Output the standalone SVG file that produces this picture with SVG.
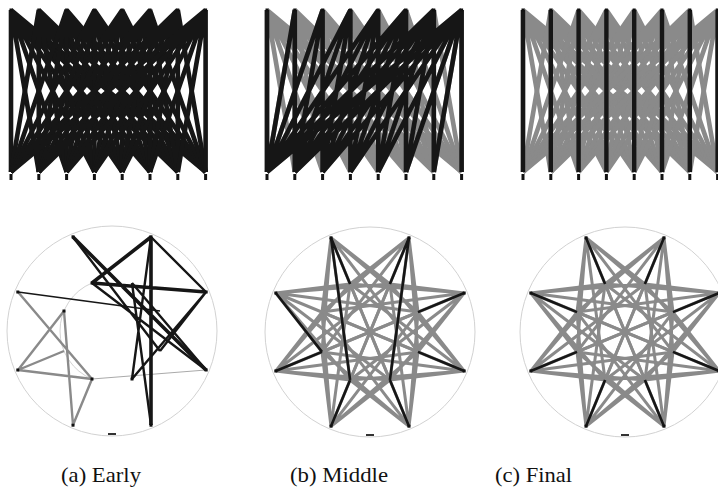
<svg xmlns="http://www.w3.org/2000/svg" xmlns:xlink="http://www.w3.org/1999/xlink" width="718" height="488" viewBox="0 0 718 488">
<style>
.blk{stroke:#161616;fill:none}
.gry{stroke:#8a8a8a;fill:none}
.ring{stroke:#d2d2d2;stroke-width:1;fill:none}
.nd{fill:#111}
.lbl{font-family:"Liberation Serif","Times New Roman",serif;font-size:21px;fill:#111}
</style>
<defs>
<g id="kb">
<path d="M0 0L0 162M0 0L27.8 162M0 0L55.6 162M0 0L83.4 162M0 0L111.2 162M0 0L139 162M0 0L166.8 162M0 0L194.6 162"/>
<path d="M27.8 0L0 162M27.8 0L27.8 162M27.8 0L55.6 162M27.8 0L83.4 162M27.8 0L111.2 162M27.8 0L139 162M27.8 0L166.8 162M27.8 0L194.6 162"/>
<path d="M55.6 0L0 162M55.6 0L27.8 162M55.6 0L55.6 162M55.6 0L83.4 162M55.6 0L111.2 162M55.6 0L139 162M55.6 0L166.8 162M55.6 0L194.6 162"/>
<path d="M83.4 0L0 162M83.4 0L27.8 162M83.4 0L55.6 162M83.4 0L83.4 162M83.4 0L111.2 162M83.4 0L139 162M83.4 0L166.8 162M83.4 0L194.6 162"/>
<path d="M111.2 0L0 162M111.2 0L27.8 162M111.2 0L55.6 162M111.2 0L83.4 162M111.2 0L111.2 162M111.2 0L139 162M111.2 0L166.8 162M111.2 0L194.6 162"/>
<path d="M139 0L0 162M139 0L27.8 162M139 0L55.6 162M139 0L83.4 162M139 0L111.2 162M139 0L139 162M139 0L166.8 162M139 0L194.6 162"/>
<path d="M166.8 0L0 162M166.8 0L27.8 162M166.8 0L55.6 162M166.8 0L83.4 162M166.8 0L111.2 162M166.8 0L139 162M166.8 0L166.8 162M166.8 0L194.6 162"/>
<path d="M194.6 0L0 162M194.6 0L27.8 162M194.6 0L55.6 162M194.6 0L83.4 162M194.6 0L111.2 162M194.6 0L139 162M194.6 0L166.8 162M194.6 0L194.6 162"/>
</g>
<g id="kbnodes">
<rect x="-1.5" y="-1.5" width="3" height="3"/><rect x="26.3" y="-1.5" width="3" height="3"/><rect x="54.1" y="-1.5" width="3" height="3"/><rect x="81.9" y="-1.5" width="3" height="3"/><rect x="109.7" y="-1.5" width="3" height="3"/><rect x="137.5" y="-1.5" width="3" height="3"/><rect x="165.3" y="-1.5" width="3" height="3"/><rect x="193.1" y="-1.5" width="3" height="3"/>
<rect x="-1.5" y="164" width="3" height="6"/><rect x="26.3" y="164" width="3" height="6"/><rect x="54.1" y="164" width="3" height="6"/><rect x="81.9" y="164" width="3" height="6"/><rect x="109.7" y="164" width="3" height="6"/><rect x="137.5" y="164" width="3" height="6"/><rect x="165.3" y="164" width="3" height="6"/><rect x="193.1" y="164" width="3" height="6"/>
</g>
<g id="kc">
<path d="M94.2 39L48 19.9M94.2 39L19.9 48M94.2 39L-19.9 48M94.2 39L-48 19.9M94.2 39L-48 -19.9M94.2 39L-19.9 -48M94.2 39L19.9 -48M94.2 39L48 -19.9"/>
<path d="M39 94.2L48 19.9M39 94.2L19.9 48M39 94.2L-19.9 48M39 94.2L-48 19.9M39 94.2L-48 -19.9M39 94.2L-19.9 -48M39 94.2L19.9 -48M39 94.2L48 -19.9"/>
<path d="M-39 94.2L48 19.9M-39 94.2L19.9 48M-39 94.2L-19.9 48M-39 94.2L-48 19.9M-39 94.2L-48 -19.9M-39 94.2L-19.9 -48M-39 94.2L19.9 -48M-39 94.2L48 -19.9"/>
<path d="M-94.2 39L48 19.9M-94.2 39L19.9 48M-94.2 39L-19.9 48M-94.2 39L-48 19.9M-94.2 39L-48 -19.9M-94.2 39L-19.9 -48M-94.2 39L19.9 -48M-94.2 39L48 -19.9"/>
<path d="M-94.2 -39L48 19.9M-94.2 -39L19.9 48M-94.2 -39L-19.9 48M-94.2 -39L-48 19.9M-94.2 -39L-48 -19.9M-94.2 -39L-19.9 -48M-94.2 -39L19.9 -48M-94.2 -39L48 -19.9"/>
<path d="M-39 -94.2L48 19.9M-39 -94.2L19.9 48M-39 -94.2L-19.9 48M-39 -94.2L-48 19.9M-39 -94.2L-48 -19.9M-39 -94.2L-19.9 -48M-39 -94.2L19.9 -48M-39 -94.2L48 -19.9"/>
<path d="M39 -94.2L48 19.9M39 -94.2L19.9 48M39 -94.2L-19.9 48M39 -94.2L-48 19.9M39 -94.2L-48 -19.9M39 -94.2L-19.9 -48M39 -94.2L19.9 -48M39 -94.2L48 -19.9"/>
<path d="M94.2 -39L48 19.9M94.2 -39L19.9 48M94.2 -39L-19.9 48M94.2 -39L-48 19.9M94.2 -39L-48 -19.9M94.2 -39L-19.9 -48M94.2 -39L19.9 -48M94.2 -39L48 -19.9"/>
</g>
<g id="kcframe">
<circle class="ring" r="105"/>
<rect x="-4" y="102" width="8" height="2" fill="#333"/>
</g>
<g id="kcnodes">
<rect x="92.7" y="37.5" width="3" height="3"/><rect x="37.5" y="92.7" width="3" height="3"/><rect x="-40.5" y="92.7" width="3" height="3"/><rect x="-95.7" y="37.5" width="3" height="3"/><rect x="-95.7" y="-40.5" width="3" height="3"/><rect x="-40.5" y="-95.7" width="3" height="3"/><rect x="37.5" y="-95.7" width="3" height="3"/><rect x="92.7" y="-40.5" width="3" height="3"/>
</g>
</defs>

<g id="bipartite-early" transform="translate(11,10)">
<path class="gry" stroke-width="3" d="M0 0L194.6 162M0 0L166.8 162"/>
<use xlink:href="#kb" class="blk" stroke-width="4.6"/>
<use xlink:href="#kbnodes" class="nd"/>
</g>

<g id="bipartite-middle" transform="translate(267,10)">
<use xlink:href="#kb" class="gry" stroke-width="4.6"/>
<path class="blk" stroke-width="4.6" d="M0 0L0 162M27.8 0L0 162M27.8 0L27.8 162M55.6 0L0 162M55.6 0L27.8 162M55.6 0L55.6 162M83.4 0L0 162M83.4 0L27.8 162M83.4 0L55.6 162M83.4 0L83.4 162M111.2 0L0 162M111.2 0L27.8 162M111.2 0L55.6 162M111.2 0L83.4 162M111.2 0L111.2 162M139 0L0 162M139 0L27.8 162M139 0L55.6 162M139 0L83.4 162M139 0L111.2 162M139 0L139 162M166.8 0L0 162M166.8 0L27.8 162M166.8 0L55.6 162M166.8 0L83.4 162M166.8 0L111.2 162M166.8 0L139 162M166.8 0L166.8 162M194.6 0L0 162M194.6 0L27.8 162M194.6 0L55.6 162M194.6 0L83.4 162M194.6 0L111.2 162M194.6 0L139 162M194.6 0L166.8 162M194.6 0L194.6 162"/>
<use xlink:href="#kbnodes" class="nd"/>
</g>

<g id="bipartite-final" transform="translate(523,10)">
<use xlink:href="#kb" class="gry" stroke-width="4.6"/>
<path class="blk" stroke-width="4.4" d="M0 0L0 162M27.8 0L27.8 162M55.6 0L55.6 162M83.4 0L83.4 162M111.2 0L111.2 162M139 0L139 162M166.8 0L166.8 162M194.6 0L194.6 162"/>
<use xlink:href="#kbnodes" class="nd"/>
</g>

<g id="circle-early">
<use xlink:href="#kcframe" transform="translate(112,331)"/>
<path class="ring" d="M92 283A52 52 0 0 0 92 379"/>
<g id="early-grey" class="gry" stroke-width="2.4">
<path d="M18 292L92 379M18 370L64 311M18 370L92 379M64 311L73 425M92 379L73 425M18 370L64 351"/>
<path stroke-width="1.2" stroke="#aaa" d="M92 379L206 370"/>
</g>
<g id="early-black" class="blk">
<path stroke-width="3.6" d="M73 237L206 370M151 237L92 283M92 283L206 292M151 237L151 425"/>
<path stroke-width="2.4" d="M73 237L160 351M151 237L132 379M206 292L132 379M151 425L132 283M206 370L92 283M151 237L206 292M206 370L132 283M206 292L160 351"/>
<path stroke-width="1.5" d="M18 292L160 311"/>
</g>
<g class="nd">
<use xlink:href="#kcnodes" transform="translate(112,331)"/>
<rect x="90.5" y="281.5" width="3" height="3"/><rect x="62.5" y="309.5" width="3" height="3"/><rect x="90.5" y="377.5" width="3" height="3"/><rect x="130.5" y="377.5" width="3" height="3"/>
</g>
</g>

<g id="circle-middle" transform="translate(370,332)">
<use xlink:href="#kcframe"/>
<use xlink:href="#kc" class="gry" stroke-width="3"/>
<path class="blk" stroke-width="2.6" d="M94.2 39L48 19.9M39 94.2L19.9 48M-39 94.2L-19.9 48M-94.2 39L-48 19.9M-94.2 -39L-48 19.9M-39 -94.2L-19.9 -48M-39 -94.2L-19.9 48M39 -94.2L19.9 -48M39 -94.2L19.9 48M94.2 -39L48 -19.9"/>
<use xlink:href="#kcnodes" class="nd"/>
</g>

<g id="circle-final" transform="translate(625,332)">
<use xlink:href="#kcframe"/>
<use xlink:href="#kc" class="gry" stroke-width="3"/>
<path class="blk" stroke-width="2.6" d="M94.2 39L48 19.9M39 94.2L19.9 48M-39 94.2L-19.9 48M-94.2 39L-48 19.9M-94.2 -39L-48 -19.9M-39 -94.2L-19.9 -48M39 -94.2L19.9 -48M94.2 -39L48 -19.9"/>
<use xlink:href="#kcnodes" class="nd"/>
</g>

<g id="labels">
<text class="lbl" font-family="Liberation Serif, serif" x="61" y="482" textLength="80" lengthAdjust="spacingAndGlyphs">(a) Early</text>
<text class="lbl" font-family="Liberation Serif, serif" x="290" y="482" textLength="98" lengthAdjust="spacingAndGlyphs">(b) Middle</text>
<text class="lbl" font-family="Liberation Serif, serif" x="495" y="482" textLength="77" lengthAdjust="spacingAndGlyphs">(c) Final</text>
</g>
</svg>
